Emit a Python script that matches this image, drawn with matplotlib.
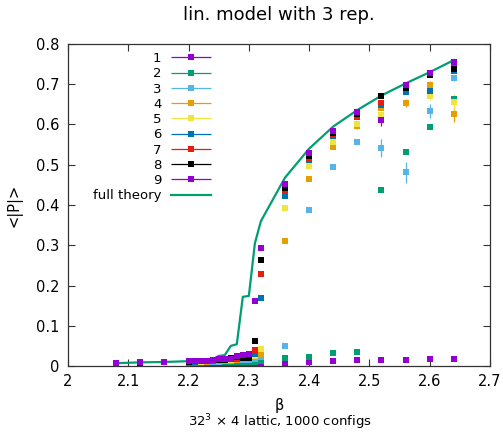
import matplotlib
matplotlib.use("Agg")
import matplotlib.pyplot as plt
import numpy as np
from matplotlib.container import ErrorbarContainer
from matplotlib.legend_handler import HandlerErrorbar

beta = [2.08, 2.12, 2.16, 2.20, 2.21, 2.22, 2.23, 2.24, 2.25, 2.26, 2.27, 2.28,
        2.29, 2.30, 2.31, 2.32, 2.36, 2.40, 2.44, 2.48, 2.52, 2.56, 2.60, 2.64]

# <|P|> for the nine runs
p1 = [0.007, 0.008, 0.009, 0.006, 0.006, 0.006, 0.006, 0.006, 0.006, 0.006, 0.006, 0.006,
      0.006, 0.006, 0.006, 0.005, 0.008, 0.011, 0.012, 0.014, 0.014, 0.016, 0.017, 0.017]
p2 = [0.007, 0.008, 0.009, 0.008, 0.008, 0.008, 0.009, 0.009, 0.009, 0.010, 0.010, 0.010,
      0.011, 0.011, 0.011, 0.013, 0.019, 0.022, 0.032, 0.034, 0.437, 0.531, 0.593, 0.663]
p3 = [0.007, 0.008, 0.009, 0.009, 0.009, 0.010, 0.010, 0.011, 0.011, 0.012, 0.013, 0.014,
      0.015, 0.016, 0.018, 0.022, 0.050, 0.388, 0.494, 0.556, 0.541, 0.481, 0.633, 0.715]
p4 = [0.007, 0.008, 0.009, 0.010, 0.010, 0.011, 0.011, 0.012, 0.013, 0.014, 0.015, 0.016,
      0.018, 0.020, 0.022, 0.029, 0.311, 0.464, 0.543, 0.596, 0.640, 0.653, 0.699, 0.625]
p5 = [0.007, 0.008, 0.009, 0.010, 0.011, 0.011, 0.012, 0.013, 0.014, 0.015, 0.016, 0.017,
      0.019, 0.021, 0.025, 0.041, 0.392, 0.497, 0.556, 0.601, 0.624, 0.683, 0.672, 0.655]
p6 = [0.007, 0.008, 0.009, 0.011, 0.011, 0.012, 0.012, 0.013, 0.014, 0.015, 0.017, 0.018,
      0.020, 0.022, 0.030, 0.170, 0.423, 0.513, 0.571, 0.618, 0.648, 0.680, 0.683, 0.733]
p7 = [0.007, 0.008, 0.009, 0.011, 0.012, 0.012, 0.013, 0.014, 0.015, 0.016, 0.018, 0.020,
      0.021, 0.024, 0.040, 0.229, 0.434, 0.518, 0.576, 0.622, 0.654, 0.687, 0.724, 0.745]
p8 = [0.007, 0.008, 0.009, 0.011, 0.012, 0.012, 0.013, 0.014, 0.015, 0.016, 0.020, 0.022,
      0.021, 0.019, 0.063, 0.263, 0.441, 0.522, 0.580, 0.626, 0.671, 0.690, 0.722, 0.738]
p9 = [0.008, 0.009, 0.010, 0.012, 0.012, 0.013, 0.013, 0.015, 0.017, 0.018, 0.018, 0.026,
      0.028, 0.030, 0.161, 0.292, 0.451, 0.528, 0.585, 0.630, 0.611, 0.698, 0.729, 0.756]

# error bars, only visible for beta >= 2.36
e1 = [0.002, 0.002, 0.002, 0.002, 0.002, 0.002, 0.002, 0.002]
e2 = [0.002, 0.002, 0.003, 0.003, 0.004, 0.004, 0.005, 0.006]
e3 = [0.003, 0.004, 0.005, 0.004, 0.022, 0.027, 0.017, 0.008]
e4 = [0.003, 0.003, 0.004, 0.006, 0.005, 0.010, 0.008, 0.020]
e5 = [0.003, 0.003, 0.004, 0.004, 0.010, 0.006, 0.010, 0.020]
e6 = [0.003, 0.003, 0.003, 0.003, 0.004, 0.004, 0.004, 0.005]
e7 = [0.003, 0.003, 0.003, 0.003, 0.004, 0.004, 0.004, 0.004]
e8 = [0.003, 0.003, 0.003, 0.003, 0.004, 0.004, 0.004, 0.004]
e9 = [0.003, 0.003, 0.003, 0.003, 0.015, 0.004, 0.003, 0.003]

theory = [0.007, 0.009, 0.010, 0.012, 0.012, 0.013, 0.014, 0.017, 0.025, 0.027, 0.050, 0.054,
          0.172, 0.174, 0.305, 0.360, 0.468, 0.540, 0.595, 0.636, 0.672, 0.702, 0.730, 0.760]

labels = ["1", "2", "3", "4", "5", "6", "7", "8", "9"]
colors = ["#9400d3", "#009e73", "#56b4e9", "#e69f00", "#f0e442",
          "#0072b2", "#e51e10", "#000000", "#9400d3"]
series = [p1, p2, p3, p4, p5, p6, p7, p8, p9]
errors = [e1, e2, e3, e4, e5, e6, e7, e8, e9]

fig = plt.figure(figsize=(5.03, 4.32), dpi=100)
ax = fig.add_axes([68 / 503, 1 - 366 / 432, 422 / 503, 322 / 432])

handles = []
for lab, col, vals, err in zip(labels, colors, series, errors):
    yerr = [0.0] * (len(beta) - len(err)) + err
    ax.errorbar(beta, vals, yerr=yerr, fmt="s", ms=4.6, color=col, ecolor=col,
                elinewidth=0.9, capsize=2.5, capthick=0.9, mew=0)
    proxy = ax.errorbar([], [], xerr=[], fmt="s", ms=4.6, color=col, ecolor=col,
                        elinewidth=0.9, capsize=3.5, capthick=0.9, mew=0, label=lab)
    handles.append(proxy)

line, = ax.plot(beta, theory, color="#009e73", lw=1.6, label="full theory")
handles.append(line)

ax.set_xlim(2, 2.7)
ax.set_ylim(0, 0.8)
ax.set_xticks(np.arange(2.0, 2.71, 0.1))
ax.set_xticklabels(["2", "2.1", "2.2", "2.3", "2.4", "2.5", "2.6", "2.7"])
ax.set_yticks(np.arange(0, 0.81, 0.1))
ax.set_yticklabels(["0", "0.1", "0.2", "0.3", "0.4", "0.5", "0.6", "0.7", "0.8"])
ax.tick_params(direction="in", length=5, width=0.8, top=True, right=True,
               labelsize=10.5, pad=6, colors="#333333", labelcolor="black")
for sp in ax.spines.values():
    sp.set_color("#333333")
    sp.set_linewidth(0.9)

ax.set_title("lin. model with 3 rep.", fontsize=13, pad=17)
ax.set_xlabel("β", fontsize=10.5, labelpad=6)
ax.set_ylabel("<|P|>", fontsize=10.5, labelpad=10)
fig.text(280 / 503, 1 - 426 / 432, r"32$^3$ $\times$ 4 lattic, 1000 configs",
         ha="center", va="baseline", fontsize=9.5)

ax.legend(handles=handles, loc="upper right", bbox_to_anchor=(0.34, 0.975),
          frameon=False, markerfirst=False, fontsize=9.5, borderpad=0,
          borderaxespad=0, labelspacing=0.17, handlelength=3.1, handletextpad=0.7,
          numpoints=1,
          handler_map={ErrorbarContainer: HandlerErrorbar(xerr_size=1.55)})

fig.savefig("out.png", dpi=100)
